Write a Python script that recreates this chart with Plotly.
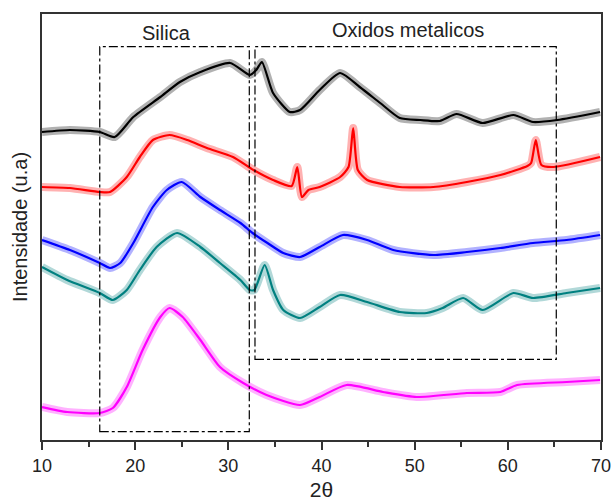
import plotly.graph_objects as go

# 2-theta positions (degrees) and intensities (arbitrary units)
black_x = [10, 13.0, 16.2, 17.8, 19.8, 22.7, 24.8, 27.0, 30.2, 32.3, 33.0, 33.6, 34.8, 36.6, 37.7, 39.8,
           42.0, 44.1, 46.3, 48.4, 50.6, 52.7, 54.5, 57.3, 60.6, 62.7, 65.3, 69.9]
black_y = [308, 310, 308, 303, 323, 343, 358, 368, 377, 365, 370, 378, 347, 328, 330, 350,
           367, 353, 337, 322, 320, 319, 326, 317, 325, 318, 320, 328]

red_x = [10, 13.0, 16.2, 17.3, 19.1, 20.5, 21.9, 23.7, 25.6, 27.7, 30.5, 32.7, 34.8, 36.8, 37.4, 37.9,
         38.6, 39.8, 42.0, 42.9, 43.4, 43.9, 44.9, 48.4, 52.0, 55.6, 59.2, 62.1, 62.5, 63.0, 63.6, 64.9, 69.9]
red_y = [253, 252, 248, 248, 263, 283, 300, 305, 300, 292, 283, 270, 260, 254, 273, 243,
         250, 253, 263, 273, 312, 270, 260, 253, 253, 258, 265, 274, 277, 300, 275, 273, 283]

blue_x = [10, 13.0, 16.2, 17.3, 18.4, 19.8, 21.9, 23.4, 25.0, 27.0, 29.1, 31.3, 32.6, 34.2, 35.9, 37.7,
          39.8, 42.3, 44.9, 47.7, 52.0, 55.6, 59.2, 62.7, 66.3, 69.9]
blue_y = [200, 190, 177, 172, 177, 197, 233, 250, 258, 243, 230, 217, 207, 197, 187, 183,
          193, 205, 200, 190, 185, 188, 192, 197, 200, 205]

teal_x = [10, 12.7, 16.2, 17.6, 19.1, 20.5, 22.3, 24.5, 27.0, 29.1, 31.3, 32.3, 32.8, 33.9, 34.8, 35.9,
          37.7, 39.8, 42.0, 44.9, 48.4, 51.3, 53.0, 55.2, 57.3, 60.6, 62.7, 66.3, 69.9]
teal_y = [173, 160, 147, 140, 150, 170, 193, 207, 193, 177, 160, 150, 150, 175, 150, 130,
          122, 133, 145, 138, 128, 127, 132, 142, 130, 147, 142, 147, 152]

magenta_x = [10, 12.7, 16.2, 17.6, 19.1, 20.8, 22.7, 23.7, 25.1, 27.0, 29.1, 31.6, 34.1, 37.7, 39.8,
             42.7, 46.6, 50.2, 55.6, 59.2, 61.0, 66.3, 69.9]
magenta_y = [33, 28, 27, 32, 53, 90, 123, 132, 123, 100, 73, 57, 45, 35, 43,
             55, 48, 43, 47, 48, 55, 58, 60]

series = [
    ("black", black_x, black_y),
    ("red", red_x, red_y),
    ("blue", blue_x, blue_y),
    ("#008080", teal_x, teal_y),
    ("magenta", magenta_x, magenta_y),
]

# region boxes: (x0, x1, y0, y1) in data units, and labels
silica_box = (16.2, 32.25, 8.3, 393.3)
oxidos_box = (32.86, 65.2, 80.7, 393.3)
labels = [("Silica", 23.4, 407), ("Oxidos metalicos", 49.3, 410)]

FONT = "Arial, Liberation Sans, sans-serif"

fig = go.Figure()
for color, xs, ys in series:
    fig.add_trace(go.Scatter(x=xs, y=ys, mode="lines", line=dict(color=color, width=8, shape="spline", smoothing=0.6),
                             opacity=0.3, showlegend=False, hoverinfo="skip"))
    fig.add_trace(go.Scatter(x=xs, y=ys, mode="lines", line=dict(color=color, width=2.2, shape="spline", smoothing=0.6),
                             showlegend=False))

for (x0, x1, y0, y1) in (silica_box, oxidos_box):
    fig.add_shape(type="rect", x0=x0, x1=x1, y0=y0, y1=y1, xref="x", yref="y",
                  line=dict(color="black", width=1.2, dash="dashdot"))

for text, x, y in labels:
    fig.add_annotation(x=x, y=y, text=text, showarrow=False, xref="x", yref="y",
                       font=dict(family=FONT, size=20, color="#222"))

fig.update_layout(
    width=611, height=501,
    margin=dict(l=42, r=10, t=14, b=61),
    paper_bgcolor="white", plot_bgcolor="white",
    font=dict(family=FONT, color="#222"),
    xaxis=dict(range=[10, 70], tickvals=[10, 20, 30, 40, 50, 60, 70], ticks="outside", ticklen=8,
               tickwidth=1.5, tickcolor="#333", showline=True, linecolor="#333", linewidth=2,
               mirror=True, showgrid=False, zeroline=False, tickfont=dict(size=18), automargin=False,
               ticklabeloverflow="allow",
               minor=dict(tickvals=[15, 25, 35, 45, 55, 65], ticks="outside", ticklen=5, tickwidth=1.5,
                          tickcolor="#333"),
               title=dict(text="2θ", font=dict(size=21), standoff=20)),
    yaxis=dict(range=[0, 426], showticklabels=False, ticks="", showline=True, linecolor="#333",
               linewidth=2, mirror=True, showgrid=False, zeroline=False, automargin=False,
               title=dict(text="Intensidade (u.a)", font=dict(size=20), standoff=7)),
)

fig.write_html("out.html")
